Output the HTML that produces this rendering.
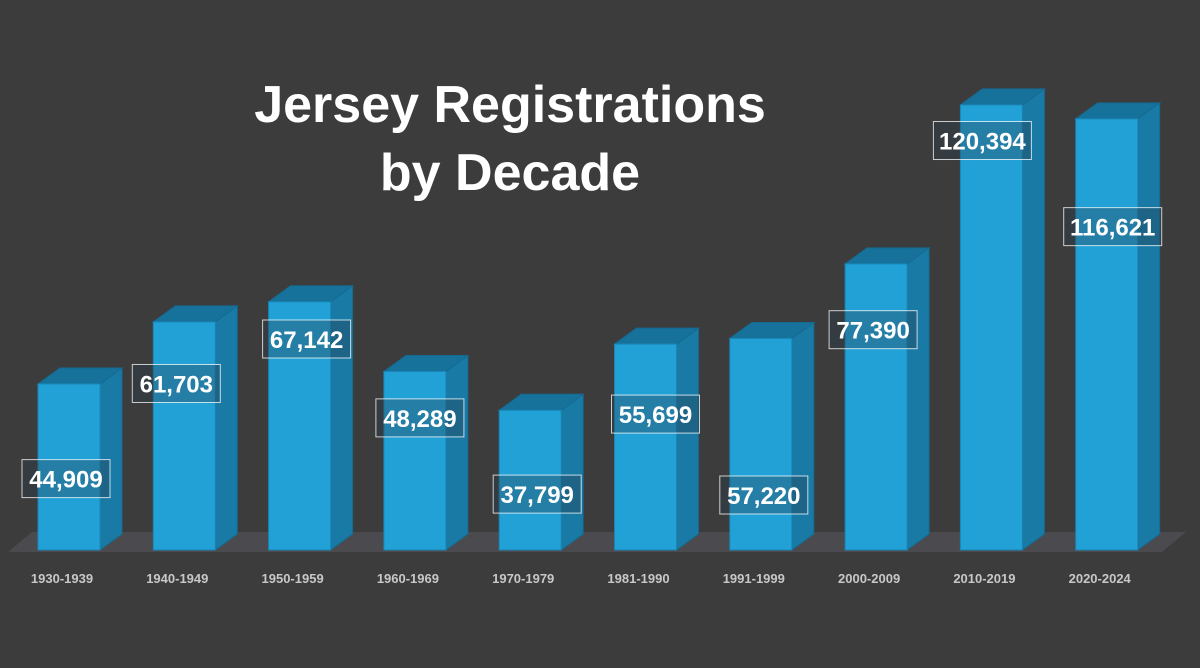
<!DOCTYPE html>
<html><head><meta charset="utf-8"><style>
html,body{margin:0;padding:0;background:#3c3c3d;}
svg{display:block}
</style></head><body>
<svg id="chart" width="1200" height="668" viewBox="0 0 1200 668" xmlns="http://www.w3.org/2000/svg">
<rect width="1200" height="668" fill="#3c3c3d"/>
<text x="510" font-family="Liberation Sans, sans-serif" font-weight="bold" font-size="52" fill="#fff" text-anchor="middle"><tspan x="510" y="122">Jersey Registrations</tspan><tspan x="510" y="190">by Decade</tspan></text>
<polygon points="8,552 1162,552 1186,532 32,532" fill="#4b4b4f"/>
<g id="bars"></g>
<g id="labels"></g>
</svg>
<script>
const categories=["1930-1939","1940-1949","1950-1959","1960-1969","1970-1979","1981-1990","1991-1999","2000-2009","2010-2019","2020-2024"];
const values=[44909,61703,67142,48289,37799,55699,57220,77390,120394,116621];
const valueLabels=["44,909","61,703","67,142","48,289","37,799","55,699","57,220","77,390","120,394","116,621"];
const labelFrac=[0.43,0.73,0.85,0.74,0.4,0.66,0.26,0.77,0.92,0.75];
const labelDx=[-3,-8,7,5,7,10,3,-3,-9,6];
const NS="http://www.w3.org/2000/svg";
const base=550, k=0.003697, x0=38, step=115.3, w=62, dx=22, dy=16;
function xPos(i){return x0+i*step;}
function yPos(v){return base-v*k;}
const gb=document.getElementById('bars'), gl=document.getElementById('labels');
function mk(tag,attrs,parent){const e=document.createElementNS(NS,tag);for(const a in attrs)e.setAttribute(a,attrs[a]);parent.appendChild(e);return e;}
values.forEach((v,i)=>{
  const x=xPos(i), y=yPos(v);
  const side=mk('polygon',{points:`${x+w},${y} ${x+w+dx},${y-dy} ${x+w+dx},${base-dy} ${x+w},${base}`,fill:'#1a7aa6',stroke:'#156a90','stroke-width':1},gb);
  
  
  const top=mk('polygon',{points:`${x},${y} ${x+dx},${y-dy} ${x+w+dx},${y-dy} ${x+w},${y}`,fill:'#17729b',stroke:'#156a90','stroke-width':1},gb);
  
  
  const front=mk('rect',{x:x,y:y,width:w,height:base-y,fill:'#22a1d6',stroke:'#1a85b5','stroke-width':1},gb);
  
  
  const cx=x+w/2+labelDx[i];
  const ly=base-(base-y)*labelFrac[i];
  const bw=valueLabels[i].length>6?98:88;
  const box=mk('rect',{x:cx-bw/2,y:ly-19,width:bw,height:38,fill:'rgba(40,60,75,0.35)',stroke:'rgba(255,255,255,0.75)','stroke-width':1},gl);
  
  
  const t=mk('text',{x:cx,y:ly+9,'text-anchor':'middle','font-family':'Liberation Sans, sans-serif','font-weight':'bold','font-size':24,fill:'#fff'},gl);
  t.textContent=valueLabels[i];
  
  
  const c=mk('text',{x:x+w/2-7,y:583,'text-anchor':'middle','font-family':'Liberation Sans, sans-serif','font-weight':'bold','font-size':13,fill:'#c8c8c8'},gl);
  c.textContent=categories[i];
  
  
});
</script>
</body></html>
